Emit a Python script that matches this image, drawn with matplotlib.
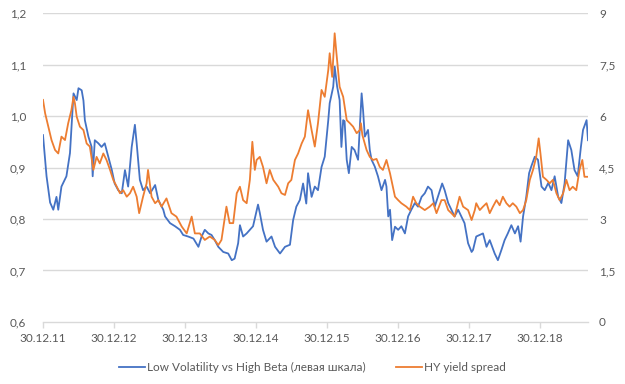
import numpy as np
import matplotlib
matplotlib.use("Agg")
import matplotlib.pyplot as plt

# years since 30.12.11
lv_t = [0.00, 0.05, 0.10, 0.145, 0.19, 0.215, 0.26, 0.33, 0.38, 0.40, 0.43, 0.475, 0.50, 0.545,
        0.57, 0.59, 0.64, 0.685, 0.70, 0.73, 0.78, 0.825, 0.87, 0.92, 0.97, 1.01, 1.06, 1.11,
        1.155, 1.20, 1.25, 1.295, 1.32, 1.365, 1.41, 1.46, 1.51, 1.58, 1.625, 1.695, 1.72, 1.79,
        1.86, 1.93, 1.975, 2.045, 2.12, 2.19, 2.235, 2.28, 2.33, 2.375, 2.42, 2.47, 2.54, 2.61,
        2.66, 2.70, 2.75, 2.775, 2.82, 2.87, 2.915, 2.96, 3.03, 3.055, 3.10, 3.15, 3.22, 3.27,
        3.34, 3.41, 3.48, 3.525, 3.57, 3.62, 3.665, 3.71, 3.735, 3.785, 3.83, 3.875, 3.925, 3.97,
        4.02, 4.04, 4.09, 4.11, 4.145, 4.18, 4.205, 4.23, 4.25, 4.28, 4.31, 4.35, 4.39, 4.44,
        4.49, 4.51, 4.535, 4.58, 4.605, 4.63, 4.675, 4.72, 4.77, 4.82, 4.84, 4.865, 4.89, 4.92,
        4.96, 5.005, 5.05, 5.10, 5.145, 5.19, 5.24, 5.285, 5.335, 5.38, 5.425, 5.475, 5.52, 5.565,
        5.625, 5.66, 5.71, 5.755, 5.80, 5.85, 5.895, 5.94, 5.99, 6.04, 6.06, 6.105, 6.20, 6.25,
        6.295, 6.365, 6.41, 6.46, 6.505, 6.55, 6.60, 6.65, 6.695, 6.73, 6.765, 6.81, 6.85, 6.88,
        6.93, 6.975, 7.025, 7.07, 7.12, 7.165, 7.21, 7.26, 7.305, 7.35, 7.40, 7.445, 7.49, 7.535,
        7.58, 7.61, 7.66, 7.68]
lv_val = [0.963, 0.883, 0.832, 0.818, 0.843, 0.818, 0.863, 0.883, 0.928, 0.973, 1.044, 1.031, 1.054, 1.05,
          1.03, 0.992, 0.96, 0.94, 0.883, 0.953, 0.947, 0.94, 0.947, 0.921, 0.895, 0.869, 0.856, 0.85,
          0.895, 0.863, 0.94, 0.983, 0.947, 0.876, 0.856, 0.863, 0.85, 0.866, 0.837, 0.818, 0.805, 0.792,
          0.786, 0.779, 0.769, 0.766, 0.762, 0.746, 0.766, 0.779, 0.772, 0.769, 0.759, 0.746, 0.736, 0.733,
          0.72, 0.723, 0.753, 0.788, 0.766, 0.772, 0.779, 0.786, 0.828, 0.812, 0.779, 0.756, 0.766, 0.746,
          0.733, 0.746, 0.75, 0.798, 0.824, 0.837, 0.869, 0.83, 0.889, 0.843, 0.863, 0.856, 0.901, 0.921,
          0.992, 1.025, 1.057, 1.096, 1.057, 1.031, 0.94, 0.992, 0.99, 0.915, 0.889, 0.94, 0.934, 0.915,
          1.044, 1.012, 0.96, 0.973, 0.934, 0.915, 0.902, 0.883, 0.856, 0.876, 0.863, 0.805, 0.818, 0.759,
          0.785, 0.779, 0.786, 0.772, 0.805, 0.818, 0.831, 0.824, 0.843, 0.85, 0.863, 0.856, 0.824, 0.843,
          0.869, 0.856, 0.831, 0.818, 0.805, 0.818, 0.805, 0.792, 0.753, 0.736, 0.74, 0.766, 0.772, 0.746,
          0.759, 0.733, 0.72, 0.74, 0.759, 0.772, 0.788, 0.772, 0.786, 0.756, 0.805, 0.843, 0.889, 0.902,
          0.921, 0.915, 0.863, 0.856, 0.87, 0.856, 0.883, 0.843, 0.831, 0.869, 0.953, 0.934, 0.895, 0.883,
          0.94, 0.973, 0.992, 0.953]

hy_t = [0.00, 0.03, 0.075, 0.12, 0.17, 0.215, 0.26, 0.31, 0.355, 0.40, 0.43, 0.45, 0.475, 0.52,
        0.57, 0.615, 0.66, 0.71, 0.755, 0.80, 0.85, 0.895, 0.945, 0.99, 1.04, 1.085, 1.13, 1.18,
        1.225, 1.27, 1.32, 1.355, 1.41, 1.46, 1.48, 1.53, 1.58, 1.625, 1.67, 1.74, 1.81, 1.88,
        1.955, 2.025, 2.095, 2.14, 2.21, 2.28, 2.35, 2.42, 2.47, 2.515, 2.565, 2.585, 2.63, 2.68,
        2.73, 2.775, 2.82, 2.87, 2.915, 2.95, 2.985, 3.01, 3.055, 3.10, 3.15, 3.195, 3.245, 3.315,
        3.36, 3.41, 3.455, 3.50, 3.55, 3.595, 3.645, 3.69, 3.735, 3.785, 3.83, 3.875, 3.925, 3.97,
        4.02, 4.04, 4.075, 4.11, 4.135, 4.18, 4.23, 4.28, 4.325, 4.37, 4.42, 4.465, 4.48, 4.50,
        4.56, 4.605, 4.65, 4.70, 4.745, 4.79, 4.84, 4.89, 4.92, 4.96, 5.005, 5.05, 5.12, 5.17,
        5.215, 5.26, 5.31, 5.38, 5.45, 5.50, 5.545, 5.615, 5.66, 5.71, 5.755, 5.80, 5.87, 5.92,
        5.99, 6.04, 6.085, 6.105, 6.155, 6.20, 6.25, 6.295, 6.34, 6.39, 6.435, 6.48, 6.53, 6.575,
        6.62, 6.67, 6.72, 6.765, 6.81, 6.86, 6.905, 6.95, 6.985, 7.01, 7.045, 7.095, 7.14, 7.185,
        7.235, 7.28, 7.33, 7.375, 7.42, 7.465, 7.515, 7.56, 7.60, 7.63, 7.68]
hy_val = [6.47, 6.08, 5.69, 5.30, 5.01, 4.91, 5.40, 5.30, 5.79, 6.17, 6.56, 6.37, 5.98, 5.69,
          5.59, 5.20, 5.11, 4.43, 4.81, 4.62, 4.91, 4.72, 4.43, 4.14, 3.94, 3.75, 3.84, 3.65,
          3.75, 3.94, 3.65, 3.17, 3.65, 4.04, 4.43, 3.65, 3.46, 3.55, 3.36, 3.60, 3.17, 3.07,
          2.78, 2.58, 3.07, 2.58, 2.58, 2.39, 2.49, 2.39, 2.24, 2.39, 3.07, 3.36, 2.88, 2.88,
          3.75, 3.94, 3.55, 3.46, 4.14, 5.25, 4.43, 4.72, 4.81, 4.52, 4.04, 4.43, 4.14, 3.94,
          3.75, 3.70, 4.04, 4.14, 4.72, 4.91, 5.20, 5.40, 6.17, 5.59, 5.11, 5.79, 6.76, 6.56,
          7.34, 7.83, 7.14, 8.41, 7.83, 6.85, 6.56, 5.88, 5.79, 5.69, 5.50, 5.59, 5.79, 5.45,
          5.01, 4.81, 4.72, 4.75, 4.52, 4.43, 4.72, 4.33, 4.04, 3.65, 3.55, 3.46, 3.36, 3.26,
          3.65, 3.46, 3.36, 3.26, 3.36, 3.46, 3.17, 3.55, 3.55, 3.26, 3.17, 3.07, 3.65, 3.36,
          3.26, 2.97, 3.26, 3.46, 3.26, 3.36, 3.46, 3.17, 3.36, 3.55, 3.40, 3.65, 3.46, 3.36,
          3.46, 3.36, 3.17, 3.26, 3.55, 4.14, 4.43, 4.81, 5.35, 4.91, 4.23, 4.14, 4.04, 4.14,
          3.75, 3.55, 3.75, 4.14, 3.84, 3.94, 3.84, 4.43, 4.72, 4.23, 4.23]

x_ticks = [0, 1, 2, 3, 4, 5, 6, 7]
x_labels = ["30.12.11", "30.12.12", "30.12.13", "30.12.14", "30.12.15", "30.12.16", "30.12.17", "30.12.18"]
left_ticks = [0.6, 0.7, 0.8, 0.9, 1.0, 1.1, 1.2]
left_labels = ["0,6", "0,7", "0,8", "0,9", "1,0", "1,1", "1,2"]
right_ticks = [0, 1.5, 3, 4.5, 6, 7.5, 9]
right_labels = ["0", "1,5", "3", "4,5", "6", "7,5", "9"]

blue = "#4472C4"
orange = "#ED7D31"
grey = "#595959"
grid = "#D9D9D9"

plt.rcParams['font.family'] = ['Lato', 'DejaVu Sans']

fig = plt.figure(figsize=(6.25, 3.84), dpi=100)
ax = fig.add_axes([0.0688, 0.1615, 0.872, 0.8045])
ax2 = ax.twinx()

l1, = ax.plot(lv_t, lv_val, color=blue, lw=1.3, label="Low Volatility vs High Beta (левая шкала)")
l2, = ax2.plot(hy_t, hy_val, color=orange, lw=1.3, label="HY yield spread")

ax.set_xlim(0, 7.68)
ax.set_ylim(0.6, 1.2)
ax2.set_ylim(0, 9)

ax.set_yticks(left_ticks)
ax.set_yticklabels(left_labels)
ax2.set_yticks(right_ticks)
ax2.set_yticklabels(right_labels)
ax.set_xticks(x_ticks)
ax.set_xticklabels(x_labels)

for y in left_ticks[1:]:
    ax.axhline(y, color=grid, lw=1.0, zorder=0)

for a in (ax, ax2):
    for s in ("top", "left", "right"):
        a.spines[s].set_visible(False)
    a.spines["bottom"].set_visible(False)
ax.spines["bottom"].set_visible(True)
ax.spines["bottom"].set_color(grid)
ax.spines["bottom"].set_linewidth(1.0)

ax.tick_params(axis="y", length=0, pad=12, labelsize=8.5, labelcolor=grey)
ax2.tick_params(axis="y", length=0, pad=8, labelsize=8.5, labelcolor=grey)
ax.tick_params(axis="x", length=4, width=1.0, color=grid, pad=4, labelsize=8.5, labelcolor=grey)

fig.legend(handles=[l1, l2], loc="lower center", bbox_to_anchor=(0.5, 0.0), ncol=2,
           frameon=False, fontsize=8.5, labelcolor=grey, handlelength=2.2, handletextpad=0.2,
           columnspacing=2.5)

fig.savefig("out.png", dpi=100)
